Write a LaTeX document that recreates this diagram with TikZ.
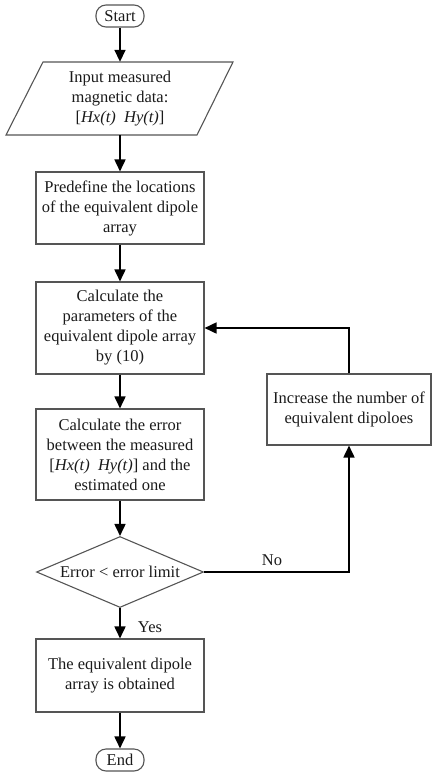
\documentclass[tikz,border=0pt]{standalone}
\usepackage{fontspec}
\setmainfont{Liberation Serif}
\usetikzlibrary{arrows.meta,shapes.geometric}
\definecolor{edge}{HTML}{555555}
\definecolor{ink}{HTML}{1A1A1A}
\begin{document}
\begin{tikzpicture}[x=1pt,y=-1pt,
  every node/.style={font=\fontsize{16.5}{20}\selectfont, text=ink},
  box/.style={draw=edge, line width=1.1pt, align=center, inner sep=0pt},
  term/.style={draw=edge, line width=1.1pt, rounded corners=10pt, minimum width=48pt, minimum height=22pt, inner sep=0pt},
  arr/.style={line width=1.7pt, draw=black, -{Triangle[length=12pt,width=11pt]}},
  lbl/.style={inner sep=0pt}]
\useasboundingbox (0,0) rectangle (432,776);
% nodes
\node[term] (start) at (120,16) {Start};
\draw[edge, line width=1.1pt] (43,62) -- (233,62) -- (197,135) -- (6,135) -- cycle;
\node[align=center, minimum height=73pt, inner sep=0pt] (inp) at (120,98.5) {Input measured\\magnetic data:\\{}[\textit{Hx(t)}~~\textit{Hy(t)}]};
\node[box, minimum width=168pt, minimum height=72pt] (pre) at (120,208) {Predefine the locations\\of the equivalent dipole\\array};
\node[box, minimum width=168pt, minimum height=92pt] (calc) at (120,328) {Calculate the\\parameters of the\\equivalent dipole array\\by (10)};
\node[box, minimum width=168pt, minimum height=91pt] (err) at (120,454.5) {Calculate the error\\between the measured\\{}[\textit{Hx(t)}~~\textit{Hy(t)}] and the\\estimated one};
\node[box, minimum width=164pt, minimum height=71pt] (inc) at (349,409.5) {Increase the number of\\equivalent dipoloes};
\node[diamond, draw=edge, line width=1.1pt, minimum width=167pt, minimum height=71pt, inner sep=0pt, aspect=2.35] (dia) at (120,572) {Error < error limit};
\node[box, minimum width=168pt, minimum height=73pt] (fin) at (120,675.5) {The equivalent dipole\\array is obtained};
\node[term] (end) at (120,760) {End};
% connectors
\draw[arr] (start) -- (inp);
\draw[arr] (inp) -- (pre);
\draw[arr] (pre) -- (calc);
\draw[arr] (calc) -- (err);
\draw[arr] (err) -- (dia);
\draw[arr] (dia) -- (fin);
\draw[arr] (fin) -- (end);
\draw[arr] (dia.east) -| (inc.south);
\draw[arr] (inc.north) |- (calc.east);
% labels
\node[lbl] (no) at (272,560) {No};
\node[lbl] (yes) at (150,627) {Yes};
\end{tikzpicture}
\end{document}
